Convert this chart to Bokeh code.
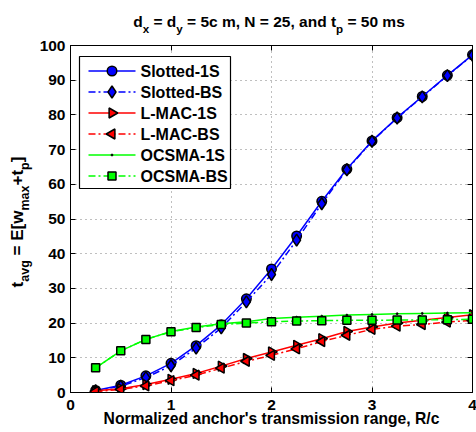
import math
from bokeh.plotting import figure
from bokeh.layouts import column, row
from bokeh.models import Range1d, FixedTicker, LinearAxis, Div
from bokeh.core.properties import value
from bokeh.embed import file_html
from bokeh.resources import INLINE

# Normalized anchor transmission range R/c
range_rc = [0.25, 0.5, 0.75, 1.0, 1.25, 1.5, 1.75, 2.0,
            2.25, 2.5, 2.75, 3.0, 3.25, 3.5, 3.75, 4.0]

# Average delay t_avg = E[w_max + t_p] for each scheme
slotted_1s = [0.6, 2.1, 4.8, 8.4, 13.5, 19.5, 27.0, 35.6,
              45.1, 55.1, 64.4, 72.5, 79.2, 85.3, 91.4, 97.3]
slotted_bs = [0.5, 1.8, 4.3, 7.7, 12.8, 18.6, 26.1, 34.0,
              43.9, 54.4, 64.2, 72.4, 79.1, 85.2, 91.3, 97.2]
lmac_1s = [0.5, 1.1, 2.3, 3.8, 5.5, 7.6, 9.8, 11.7,
           13.6, 15.5, 17.6, 18.9, 20.0, 20.8, 21.6, 22.4]
lmac_bs = [0.3, 0.9, 1.9, 3.4, 5.0, 7.0, 9.0, 10.7,
           12.6, 14.7, 16.5, 18.2, 19.1, 19.6, 20.3, 20.8]
ocsma_1s = [7.1, 12.0, 15.3, 17.6, 18.9, 19.8, 20.4, 21.3,
            21.7, 22.0, 22.3, 22.5, 22.7, 22.8, 22.9, 23.0]
ocsma_bs = [7.1, 12.0, 15.3, 17.5, 18.7, 19.6, 20.0, 20.4,
            20.6, 20.7, 20.8, 20.8, 20.9, 20.9, 21.0, 21.1]

series_names = ["Slotted-1S", "Slotted-BS", "L-MAC-1S", "L-MAC-BS",
                "OCSMA-1S", "OCSMA-BS"]

x_ticks = [0, 1, 2, 3, 4]
y_ticks = [0, 10, 20, 30, 40, 50, 60, 70, 80, 90, 100]

FONT = "Liberation Sans"

# page geometry (px): title strip on top, y-label strip on the left
PAGE_W, PAGE_H = 476, 432
TITLE_H, YLAB_W = 36, 36
FL, FT, FW, FH = 68, 45, 402, 347          # plot frame on the page
X0, X1, Y0, Y1 = 0.0, 4.0, 0.0, 100.0

fig_w, fig_h = PAGE_W - YLAB_W, PAGE_H - TITLE_H
p = figure(width=fig_w, height=fig_h, frame_width=FW, frame_height=FH,
           min_border_left=FL - YLAB_W, min_border_right=PAGE_W - FL - FW,
           min_border_top=FT - TITLE_H, min_border_bottom=PAGE_H - FT - FH,
           x_range=Range1d(X0, X1), y_range=Range1d(Y0, Y1),
           output_backend="svg", toolbar_location=None,
           background_fill_color="white", border_fill_color="white")
p.title.visible = False
p.outline_line_color = "black"
p.outline_line_width = 1

xt = FixedTicker(ticks=x_ticks)
yt = FixedTicker(ticks=y_ticks)
bottom_axis = p.below[0]
left_axis = p.left[0]
bottom_axis.ticker = xt
left_axis.ticker = yt
p.xgrid.ticker = xt
p.ygrid.ticker = yt
for g in (p.xgrid, p.ygrid):
    g.grid_line_color = "black"
    g.grid_line_alpha = 0.5
    g.grid_line_dash = "1 4"
    g.grid_line_width = 1

# mirrored axes on top and right carry ticks only
top_axis = LinearAxis(ticker=xt)
right_axis = LinearAxis(ticker=yt)
p.add_layout(top_axis, "above")
p.add_layout(right_axis, "right")

for ax in (bottom_axis, left_axis, top_axis, right_axis):
    ax.axis_line_color = "black"
    ax.major_tick_line_color = "black"
    ax.major_tick_in = 5
    ax.major_tick_out = 0
    ax.minor_tick_in = 0
    ax.minor_tick_out = 0
    ax.major_label_text_font = FONT
    ax.major_label_text_font_style = "bold"
    ax.major_label_text_font_size = "15.5px"
    ax.major_label_text_color = "black"
top_axis.major_label_overrides = {t: "" for t in x_ticks}
right_axis.major_label_overrides = {t: "" for t in y_ticks}
for ax in (top_axis, right_axis):
    ax.major_label_text_font_size = "1px"
    ax.major_label_standoff = 0
bottom_axis.major_label_standoff = 7
left_axis.major_label_standoff = 5

bottom_axis.axis_label = "Normalized anchor's transmission range, R/c"
bottom_axis.axis_label_text_font = FONT
bottom_axis.axis_label_text_font_style = "bold"
bottom_axis.axis_label_text_font_size = "15.7px"
bottom_axis.axis_label_text_color = "black"
bottom_axis.axis_label_standoff = -3


def to_dx(px):
    return X0 + (px - FL) / FW * (X1 - X0)


def to_dy(py):
    return Y1 - (py - FT) / FH * (Y1 - Y0)


# ---- series styles ----
BLUE, RED, GREEN = "#0000ff", "#ff0000", "#00ff00"
DASHDOT = "7 3 2 3"
LW = 1.5

styles = [
    dict(ys=slotted_1s, color=BLUE, dash="solid", marker="circle", size=9.5, angle=0.0, fill=BLUE),
    dict(ys=slotted_bs, color=BLUE, dash=DASHDOT, marker="diamond", size=12, angle=0.0, fill=BLUE),
    dict(ys=lmac_1s, color=RED, dash="solid", marker="triangle", size=10, angle=-math.pi / 2, fill=RED),
    dict(ys=lmac_bs, color=RED, dash=DASHDOT, marker="triangle", size=10, angle=math.pi / 2, fill=RED),
    dict(ys=ocsma_1s, color=GREEN, dash="solid", marker="circle", size=2, angle=0.0, fill="black"),
    dict(ys=ocsma_bs, color=GREEN, dash=DASHDOT, marker="square", size=8, angle=0.0, fill=GREEN),
]


def edge_width(st):
    return 1.5 if st["size"] > 3 else 0.8


for st in styles:
    p.line(range_rc, st["ys"], line_color=st["color"], line_width=LW,
           line_dash=st["dash"])
    p.scatter(range_rc, st["ys"], marker=st["marker"], size=st["size"],
              angle=st["angle"], fill_color=st["fill"], line_color="black",
              line_width=edge_width(st))

# ---- legend (keys keep the sideways triangles of the L-MAC series) ----
LEG_L, LEG_R, LEG_T, LEG_B = 77, 228, 56, 188
ROW0, ROW_STEP = 70.5, 21
KEY_X0, KEY_X1, TEXT_X = 86, 133, 138

p.quad(left=[to_dx(LEG_L)], right=[to_dx(LEG_R)], top=[to_dy(LEG_T)],
       bottom=[to_dy(LEG_B)], fill_color="white", line_color="black",
       line_width=1.2)
for i, (name, st) in enumerate(zip(series_names, styles)):
    ky = to_dy(ROW0 + ROW_STEP * i)
    p.line([to_dx(KEY_X0), to_dx(KEY_X1)], [ky, ky], line_color=st["color"],
           line_width=LW, line_dash=st["dash"])
    p.scatter([to_dx((KEY_X0 + KEY_X1) / 2.0)], [ky], marker=st["marker"],
              size=st["size"], angle=st["angle"], fill_color=st["fill"],
              line_color="black", line_width=edge_width(st))
    p.text(x=[to_dx(TEXT_X)], y=[ky], text=[name], text_font=value(FONT),
           text_font_style="bold", text_font_size="16px",
           text_baseline="middle", text_align="left", text_color="black")

# ---- title and y label with subscripts ----
BASE_CSS = f"font-family:'{FONT}';font-weight:bold;color:black;line-height:1;white-space:nowrap;"


def sub(t, size, drop):
    return f'<span style="font-size:{size}px;position:relative;top:{drop}px">{t}</span>'


title_html = ("d" + sub("x", 11.6, 5.5) + " = d" + sub("y", 11.6, 5.5) +
              " = 5c m, N = 25, and t" + sub("p", 11.6, 5.5) + " = 50 ms")
frame_cx = FL + FW / 2.0
title_div = Div(
    text=(f'<div style="position:relative;width:{PAGE_W}px;height:{TITLE_H}px;overflow:hidden">'
          f'<div style="position:absolute;left:{frame_cx - 220}px;width:440px;top:14px;'
          f'text-align:center;font-size:15.5px;{BASE_CSS}">{title_html}</div></div>'),
    width=PAGE_W, height=TITLE_H, margin=(0, 0, 0, 0))

ylab_html = ("t" + sub("avg", 12.5, 6) + " = E[w" + sub("max", 12.5, 6) +
             "+t" + sub("p", 12.5, 6) + "]")
ylab_cy = 222 - TITLE_H
ylab_div = Div(
    text=(f'<div style="position:relative;width:{YLAB_W}px;height:{fig_h}px">'
          f'<div style="position:absolute;left:17px;top:{ylab_cy}px;'
          f'transform:translate(-50%,-50%) rotate(-90deg);font-size:17px;{BASE_CSS}">'
          f'{ylab_html}</div></div>'),
    width=YLAB_W, height=fig_h, margin=(0, 0, 0, 0))

page = column(title_div, row(ylab_div, p, spacing=0), spacing=0)

open("out.html", "w").write(file_html(page, INLINE))
